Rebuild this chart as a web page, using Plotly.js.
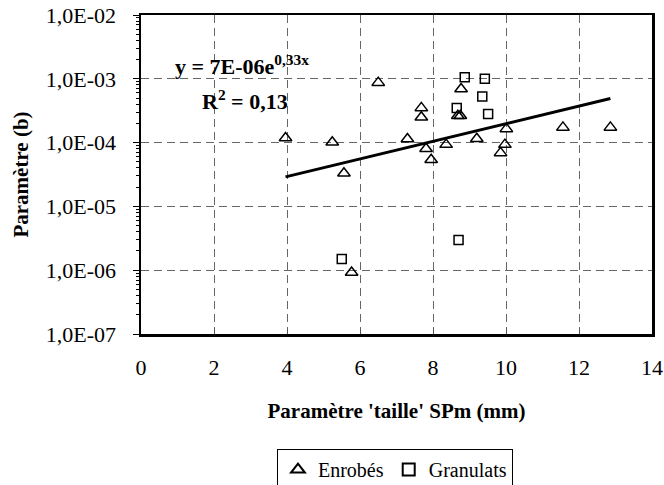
<!DOCTYPE html>
<html>
<head>
<meta charset="utf-8">
<script src="https://cdn.plot.ly/plotly-3.0.1.min.js"></script>
<style>html,body{margin:0;padding:0;background:#fff;}#chart{width:664px;height:485px;}</style>
</head>
<body>
<div id="chart"></div>
<script>
// Enrobés (triangles)
const enrobesX = [3.96, 5.24, 5.56, 6.50, 5.77, 7.30, 7.68, 7.68, 7.81, 7.95, 8.36, 8.68, 8.75, 8.77, 9.20, 9.85, 9.97, 10.01, 11.56, 12.86];
const enrobesY = [1.18e-4, 1.01e-4, 3.3e-5, 8.7e-4, 9.2e-7, 1.14e-4, 3.5e-4, 2.5e-4, 8.0e-5, 5.4e-5, 9.3e-5, 2.64e-4, 2.64e-4, 6.9e-4, 1.15e-4, 6.9e-5, 9.3e-5, 1.64e-4, 1.73e-4, 1.73e-4];
// Granulats (squares)
const granulatsX = [5.50, 8.65, 8.87, 8.70, 9.42, 9.35, 9.51];
const granulatsY = [1.5e-6, 3.5e-4, 1.06e-3, 2.97e-6, 1.0e-3, 5.3e-4, 2.8e-4];
// Exponential trend line endpoints
const trendX = [3.96, 12.86];
const trendY = [2.9e-5, 4.9e-4];
// Tick labels
const yTickVals = [1e-7, 1e-6, 1e-5, 1e-4, 1e-3, 1e-2];
const yTickText = ["1,0E-07", "1,0E-06", "1,0E-05", "1,0E-04", "1,0E-03", "1,0E-02"];
const xTickVals = [0, 2, 4, 6, 8, 10, 12, 14];
const xTickText = ["0", "2", "4", "6", "8", "10", "12", "14"];

const FONT = "Times New Roman";
const XTICKFONT = "Liberation Serif";
const YTICKFONT = "Times New Roman";

const traces = [
  {
    x: enrobesX, y: enrobesY, type: 'scatter', mode: 'markers', name: 'Enrobés',
    marker: {symbol: 'triangle-up-open', size: 11, color: '#000', line: {width: 1.5, color: '#000'}}
  },
  {
    x: granulatsX, y: granulatsY, type: 'scatter', mode: 'markers', name: 'Granulats',
    marker: {symbol: 'square-open', size: 9, color: '#000', line: {width: 1.5, color: '#000'}}
  },
  {
    x: trendX, y: trendY, type: 'scatter', mode: 'lines', showlegend: false,
    line: {color: '#000', width: 3}, hoverinfo: 'skip'
  }
];

const layout = {
  width: 664, height: 485,
  margin: {l: 141, r: 12, t: 15, b: 151, autoexpand: false},
  paper_bgcolor: '#fff', plot_bgcolor: '#fff',
  font: {family: FONT, size: 22, color: '#000'},
  showlegend: true,
  legend: {
    orientation: 'h', x: 0.497, xanchor: 'center', xref: 'paper',
    y: 0.074, yanchor: 'top', yref: 'container',
    bordercolor: '#000', borderwidth: 1, font: {family: FONT, size: 20, color: '#000'},
    itemwidth: 30, tracegroupgap: 0, itemsizing: 'constant'
  },
  xaxis: {
    range: [0, 14], tickmode: 'array', tickvals: xTickVals, ticktext: xTickText,
    ticks: 'inside', ticklen: 5, tickcolor: '#555', tickwidth: 1,
    showline: true, linecolor: '#000', linewidth: 2.5, mirror: true,
    showgrid: true, gridcolor: '#666', griddash: '8px,5px', gridwidth: 1,
    zeroline: false, automargin: false, ticklabelstandoff: 12, ticklabeloverflow: 'allow',
    tickfont: {family: XTICKFONT, size: 22, color: '#000'},
    title: {text: "<b>Paramètre 'taille' SPm (mm)</b>", font: {family: FONT, size: 21, color: '#000'}, standoff: 25}
  },
  yaxis: {
    type: 'log', range: [-7, -2], tickmode: 'array', tickvals: yTickVals, ticktext: yTickText,
    ticks: 'outside', ticklen: 6, tickcolor: '#000', tickwidth: 1,
    minor: {ticks: 'outside', ticklen: 3, tickcolor: '#000', dtick: 'D1', showgrid: false},
    showline: true, linecolor: '#000', linewidth: 2.5, mirror: true,
    showgrid: true, gridcolor: '#666', griddash: '8px,5px', gridwidth: 1,
    zeroline: false, automargin: false, ticklabelstandoff: 12, ticklabeloverflow: 'allow',
    tickfont: {family: YTICKFONT, size: 22, color: '#000'},
    title: {text: '<b>Paramètre (b)</b>', font: {family: FONT, size: 21, color: '#000'}, standoff: 12}
  },
  annotations: [
    {xref: 'paper', yref: 'paper', x: 0.0626, y: 0.844, xanchor: 'left', yanchor: 'middle', showarrow: false,
     text: '<b>y = 7E-06e<sup>0,33x</sup></b>', font: {family: FONT, size: 22, color: '#000'}},
    {xref: 'paper', yref: 'paper', x: 0.115, y: 0.734, xanchor: 'left', yanchor: 'middle', showarrow: false,
     text: '<b>R<sup>2</sup> = 0,13</b>', font: {family: FONT, size: 22, color: '#000'}}
  ]
};

Plotly.newPlot('chart', traces, layout, {displayModeBar: false, staticPlot: true});
</script>
</body>
</html>
